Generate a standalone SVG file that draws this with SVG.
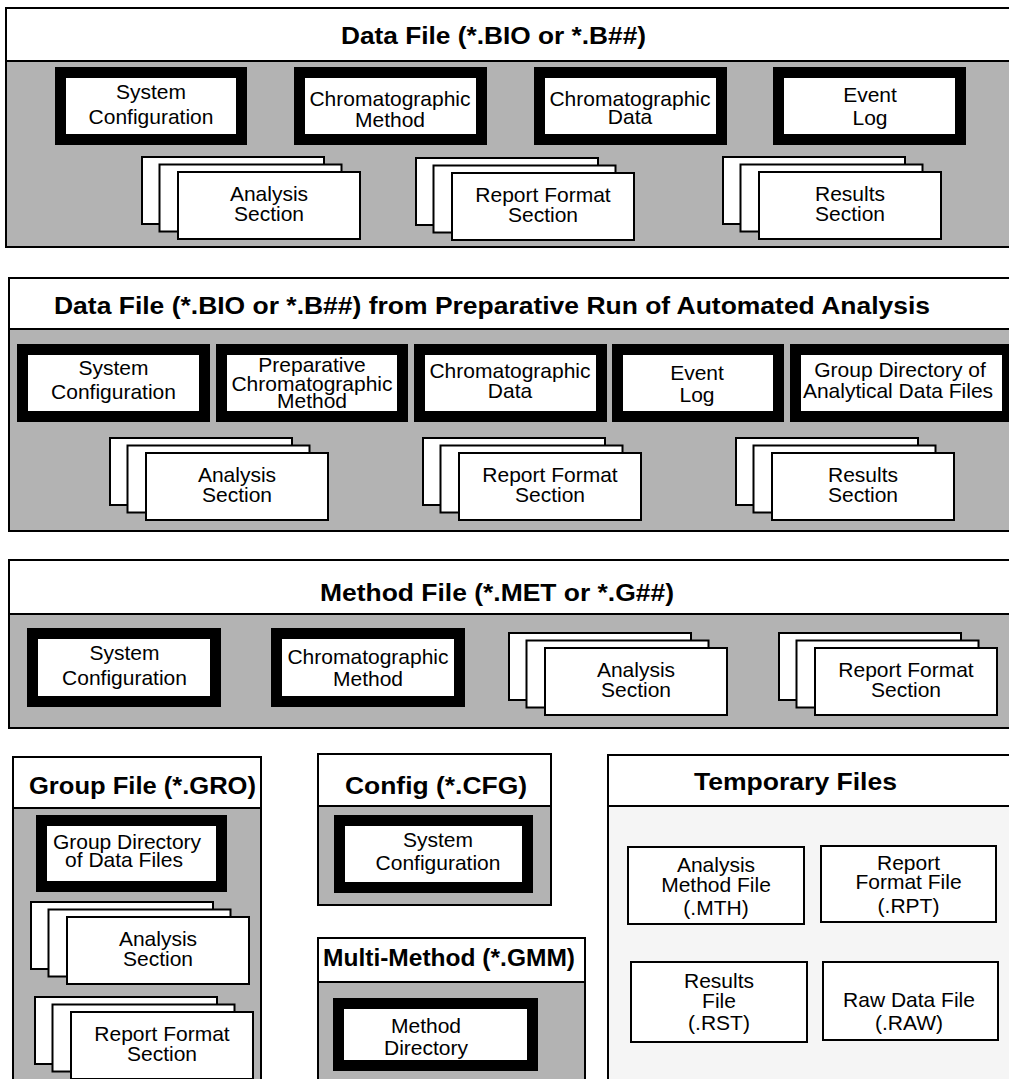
<svg xmlns="http://www.w3.org/2000/svg" xmlns:xlink="http://www.w3.org/1999/xlink" width="1009" height="1079" viewBox="0 0 1009 1079">
<style>
.panel{fill:#b3b3b3;stroke:#000;stroke-width:2}
.ltpanel{fill:#f5f5f5;stroke:#000;stroke-width:2}
.band{fill:#fff;stroke:#000;stroke-width:2}
.heavy{fill:#fff;stroke:#000;stroke-width:11}
.thin{fill:#fff;stroke:#000;stroke-width:2}
.t{font-family:"Liberation Sans",Arial,Helvetica,sans-serif;font-size:21px;fill:#000;text-anchor:middle}
.h{font-family:"Liberation Sans",Arial,Helvetica,sans-serif;font-size:23px;font-weight:bold;fill:#000}
</style>
<defs>
<g id="stack">
<rect class="thin" x="0" y="0" width="182" height="67"/>
<rect class="thin" x="17.5" y="7.5" width="182" height="67"/>
<rect class="thin" x="36" y="15" width="182" height="67"/>
</g>
</defs>
<rect width="1009" height="1079" fill="#fff"/>

<!-- Section 1 -->
<g id="datafile">
<rect class="panel" x="6" y="8" width="1010" height="239"/>
<rect class="band" x="6" y="8" width="1010" height="53"/>
<text class="h" x="341" y="44" textLength="305" lengthAdjust="spacingAndGlyphs">Data File (*.BIO or *.B##)</text>
</g>
<g id="df-sysconfig"><rect class="heavy" x="60.5" y="72.5" width="181" height="67"/>
<text class="t" x="151" y="99">System</text><text class="t" x="151" y="124">Configuration</text></g>
<g id="df-chrommethod"><rect class="heavy" x="299.5" y="72.5" width="182" height="67"/>
<text class="t" x="390" y="106">Chromatographic</text><text class="t" x="390" y="127">Method</text></g>
<g id="df-chromdata"><rect class="heavy" x="539.5" y="72.5" width="182" height="67"/>
<text class="t" x="630" y="106">Chromatographic</text><text class="t" x="630" y="124">Data</text></g>
<g id="df-eventlog"><rect class="heavy" x="778.5" y="72.5" width="182" height="67"/>
<text class="t" x="870" y="102">Event</text><text class="t" x="870" y="125">Log</text></g>
<g id="df-analysis"><use xlink:href="#stack" href="#stack" x="142" y="157"/>
<text class="t" x="269" y="201">Analysis</text><text class="t" x="269" y="221">Section</text></g>
<g id="df-report"><use xlink:href="#stack" href="#stack" x="416" y="158"/>
<text class="t" x="543" y="202">Report Format</text><text class="t" x="543" y="222">Section</text></g>
<g id="df-results"><use xlink:href="#stack" href="#stack" x="723" y="157"/>
<text class="t" x="850" y="201">Results</text><text class="t" x="850" y="221">Section</text></g>

<!-- Section 2 -->
<g id="prepfile">
<rect class="panel" x="9" y="278" width="1010" height="253"/>
<rect class="band" x="9" y="278" width="1010" height="51"/>
<text class="h" x="54" y="314" textLength="876" lengthAdjust="spacingAndGlyphs">Data File (*.BIO or *.B##) from Preparative Run of Automated Analysis</text>
</g>
<g id="pf-sysconfig"><rect class="heavy" x="22.5" y="349.5" width="182" height="67"/>
<text class="t" x="113.5" y="375">System</text><text class="t" x="113.5" y="399">Configuration</text></g>
<g id="pf-prepmethod"><rect class="heavy" x="221.5" y="349.5" width="181" height="67"/>
<text class="t" x="312" y="372">Preparative</text><text class="t" x="312" y="391">Chromatographic</text><text class="t" x="312" y="408">Method</text></g>
<g id="pf-chromdata"><rect class="heavy" x="419.5" y="349.5" width="182" height="67"/>
<text class="t" x="510" y="378">Chromatographic</text><text class="t" x="510" y="398">Data</text></g>
<g id="pf-eventlog"><rect class="heavy" x="617.5" y="349.5" width="161" height="67"/>
<text class="t" x="697" y="380">Event</text><text class="t" x="697" y="402">Log</text></g>
<g id="pf-groupdir"><rect class="heavy" x="795.5" y="349.5" width="212" height="67"/>
<text class="t" x="900" y="377">Group Directory of</text><text class="t" x="898" y="398">Analytical Data Files</text></g>
<g id="pf-analysis"><use xlink:href="#stack" href="#stack" x="110" y="438"/>
<text class="t" x="237" y="482">Analysis</text><text class="t" x="237" y="502">Section</text></g>
<g id="pf-report"><use xlink:href="#stack" href="#stack" x="423" y="438"/>
<text class="t" x="550" y="482">Report Format</text><text class="t" x="550" y="502">Section</text></g>
<g id="pf-results"><use xlink:href="#stack" href="#stack" x="736" y="438"/>
<text class="t" x="863" y="482">Results</text><text class="t" x="863" y="502">Section</text></g>

<!-- Section 3 -->
<g id="methodfile">
<rect class="panel" x="9" y="560" width="1010" height="168"/>
<rect class="band" x="9" y="560" width="1010" height="54"/>
<text class="h" x="320" y="601" textLength="354" lengthAdjust="spacingAndGlyphs">Method File (*.MET or *.G##)</text>
</g>
<g id="mf-sysconfig"><rect class="heavy" x="32.5" y="633.5" width="183" height="68"/>
<text class="t" x="124.5" y="660">System</text><text class="t" x="124.5" y="685">Configuration</text></g>
<g id="mf-chrommethod"><rect class="heavy" x="276.5" y="633.5" width="183" height="68"/>
<text class="t" x="368" y="664">Chromatographic</text><text class="t" x="368" y="686">Method</text></g>
<g id="mf-analysis"><use xlink:href="#stack" href="#stack" x="509" y="633"/>
<text class="t" x="636" y="677">Analysis</text><text class="t" x="636" y="697">Section</text></g>
<g id="mf-report"><use xlink:href="#stack" href="#stack" x="779" y="633"/>
<text class="t" x="906" y="677">Report Format</text><text class="t" x="906" y="697">Section</text></g>

<!-- Group file -->
<g id="groupfile">
<rect class="panel" x="13" y="757" width="248" height="330"/>
<rect class="band" x="13" y="757" width="248" height="51"/>
<text class="h" x="29" y="794" textLength="227" lengthAdjust="spacingAndGlyphs">Group File (*.GRO)</text>
</g>
<g id="gf-groupdir"><rect class="heavy" x="41.5" y="820.5" width="180" height="66"/>
<text class="t" x="127" y="849">Group Directory</text><text class="t" x="124" y="867">of Data Files</text></g>
<g id="gf-analysis"><use xlink:href="#stack" href="#stack" x="31" y="902"/>
<text class="t" x="158" y="946">Analysis</text><text class="t" x="158" y="966">Section</text></g>
<g id="gf-report"><use xlink:href="#stack" href="#stack" x="35" y="997"/>
<text class="t" x="162" y="1041">Report Format</text><text class="t" x="162" y="1061">Section</text></g>

<!-- Config -->
<g id="config">
<rect class="panel" x="318" y="754" width="233" height="151"/>
<rect class="band" x="318" y="754" width="233" height="52"/>
<text class="h" x="345" y="794" textLength="182" lengthAdjust="spacingAndGlyphs">Config (*.CFG)</text>
</g>
<g id="cf-sysconfig"><rect class="heavy" x="339.5" y="820.5" width="188" height="67"/>
<text class="t" x="438" y="847">System</text><text class="t" x="438" y="870">Configuration</text></g>

<!-- Multi-method -->
<g id="multimethod">
<rect class="panel" x="318" y="938" width="267" height="150"/>
<rect class="band" x="318" y="938" width="267" height="44"/>
<text class="h" x="323" y="966" textLength="252" lengthAdjust="spacingAndGlyphs">Multi-Method (*.GMM)</text>
</g>
<g id="mm-methoddir"><rect class="heavy" x="338.5" y="1003.5" width="194" height="62"/>
<text class="t" x="426" y="1033">Method</text><text class="t" x="426" y="1055">Directory</text></g>

<!-- Temporary files -->
<g id="tempfiles">
<rect class="ltpanel" x="608" y="755" width="410" height="335"/>
<rect class="band" x="608" y="755" width="410" height="51"/>
<text class="h" x="694" y="790" textLength="203" lengthAdjust="spacingAndGlyphs">Temporary Files</text>
</g>
<g id="tf-mth"><rect class="thin" x="628" y="847" width="176" height="77"/>
<text class="t" x="716" y="872">Analysis</text><text class="t" x="716" y="892">Method File</text><text class="t" x="716" y="915">(.MTH)</text></g>
<g id="tf-rpt"><rect class="thin" x="821" y="846" width="175" height="76"/>
<text class="t" x="908.5" y="870">Report</text><text class="t" x="908.5" y="889">Format File</text><text class="t" x="908.5" y="913">(.RPT)</text></g>
<g id="tf-rst"><rect class="thin" x="631" y="962" width="176" height="80"/>
<text class="t" x="719" y="988">Results</text><text class="t" x="719" y="1008">File</text><text class="t" x="719" y="1030">(.RST)</text></g>
<g id="tf-raw"><rect class="thin" x="823" y="962" width="175" height="78"/>
<text class="t" x="909" y="1007">Raw Data File</text><text class="t" x="909" y="1030">(.RAW)</text></g>

<g id="connectors"></g>
</svg>
